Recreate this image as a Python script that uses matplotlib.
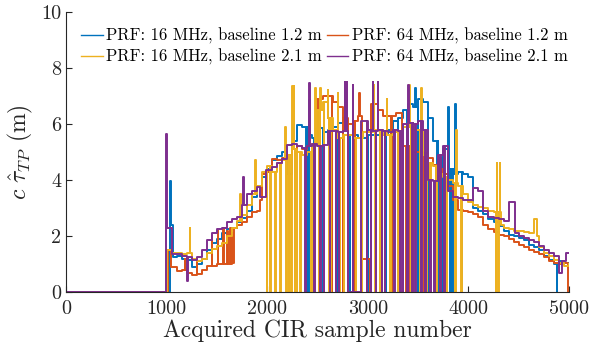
import numpy as np
import matplotlib
matplotlib.use('Agg')
import matplotlib.pyplot as plt

plt.rcParams['font.family'] = 'serif'
plt.rcParams['font.serif'] = ['cmr10']
plt.rcParams['mathtext.fontset'] = 'cm'
plt.rcParams['axes.unicode_minus'] = False

# Значения (узлы базовой линии + выбросы)
labels = ['PRF: 16 MHz, baseline 1.2 m', 'PRF: 64 MHz, baseline 1.2 m',
          'PRF: 16 MHz, baseline 2.1 m', 'PRF: 64 MHz, baseline 2.1 m']

blue_x = [0, 1035, 1045, 1060, 1100, 1150, 1200, 1250, 1300, 1350, 1400, 1450, 1500, 1550,
          1600, 1650, 1700, 1750, 1800, 1850, 1900, 1950, 2000, 2050, 2100, 2150, 2200, 2250,
          2300, 2350, 2400, 2450, 2500, 2550, 2600, 2650, 2700, 2750, 2800, 2900, 3000, 3100,
          3200, 3250, 3300, 3350, 3400, 3450, 3500, 3550, 3600, 3650, 3700, 3750, 3800, 3850,
          3900, 3950, 4000, 4050, 4100, 4150, 4200, 4250, 4300, 4350, 4400, 4450, 4500, 4550,
          4600, 4650, 4700, 4750, 4800, 4850, 4900, 4950, 5000]
blue_y = [0, 3.95, 2.4, 1.25, 1.3, 1.2, 1.15, 0.9, 1.0, 1.2, 1.5, 1.75, 1.9, 2.1,
          2.25, 2.3, 2.5, 2.65, 2.9, 3.4, 3.8, 4.1, 4.4, 4.7, 4.85, 5.0, 4.2, 5.4,
          5.95, 5.9, 5.6, 5.5, 5.85, 5.7, 5.8, 5.9, 6.05, 5.9, 5.6, 5.5, 5.6, 5.6,
          5.8, 6.1, 6.2, 6.5, 6.7, 6.6, 6.9, 6.8, 6.2, 5.4, 4.8, 5.1, 4.4, 4.2,
          4.3, 4.2, 4.1, 3.0, 2.9, 2.8, 2.6, 2.5, 2.35, 2.2, 2.05, 2.0, 1.95, 1.85,
          1.7, 1.6, 1.5, 1.3, 1.15, 1.0, 1.1, 1.05, 1.0]
blue_spk_x = [2390, 2408, 2420, 2470, 2558, 2640, 2700, 2820, 2860, 3000, 3180, 3230,
              3300, 3390, 3470, 3500, 3600, 3690, 3720, 3750, 3800, 3817, 3840, 3867, 3933, 4877]
blue_spk_y = [0, 0, 6.85, 0, 0, 0, 0, 0, 0, 0, 0, 0,
              0, 0, 7.3, 0, 0, 0, 0, 0, 6.6, 0, 0, 6.7, 0, 0]

orange_x = [0, 1010, 1040, 1100, 1150, 1200, 1250, 1300, 1350, 1400, 1450, 1500, 1550,
            1600, 1650, 1670, 1700, 1750, 1800, 1850, 1900, 1930, 1950, 2000, 2050, 2100,
            2150, 2200, 2250, 2300, 2350, 2400, 2450, 2500, 2550, 2600, 2650, 2700, 2750,
            2800, 2850, 2900, 2940, 3030, 3100, 3150, 3200, 3280, 3340, 3400, 3450, 3500,
            3550, 3600, 3650, 3700, 3750, 3800, 3850, 3900, 3950, 4000, 4050, 4100, 4150,
            4200, 4250, 4300, 4350, 4400, 4450, 4500, 4550, 4600, 4650, 4700, 4750, 4800,
            4850, 4900, 4950, 4995, 5000]
orange_y = [0, 1.5, 0.9, 0.75, 0.8, 0.7, 0.6, 0.65, 0.8, 0.95, 0.95, 1.0, 1.0,
            1.0, 1.05, 2.3, 2.4, 2.5, 2.7, 2.85, 2.9, 3.3, 4.2, 4.3, 4.75, 4.7,
            4.8, 4.9, 5.1, 5.2, 5.1, 5.2, 5.3, 6.9, 7.0, 7.0, 6.8, 6.6, 6.2,
            6.0, 6.1, 6.3, 1.2, 6.7, 6.5, 6.3, 6.3, 6.4, 5.2, 5.2, 5.0, 5.0,
            4.95, 4.8, 4.55, 4.4, 4.2, 3.8, 3.3, 2.95, 2.9, 2.85, 2.8, 2.7, 2.4,
            2.25, 2.15, 2.05, 2.0, 1.9, 1.8, 1.7, 1.6, 1.5, 1.45, 1.35, 1.25, 1.1,
            1.05, 1.0, 1.05, 0, 0]
orange_spk_x = [1180, 1300, 1450, 1510, 1560, 1600, 1630, 1650, 2520, 2640, 2750, 2800,
                2870, 2915, 3020, 3100, 3230, 3380, 3420, 3560, 3680, 3720]
orange_spk_y = [1.2, 1.1, 2.0, 2.2, 2.3, 2.2, 2.3, 2.1, 0, 0, 0, 0,
                0, 7.1, 0, 7.0, 0, 0, 0, 0, 0, 0]

yellow_x = [0, 1005, 1050, 1100, 1150, 1200, 1250, 1300, 1350, 1400, 1450, 1500, 1550,
            1600, 1650, 1700, 1750, 1800, 1850, 1900, 1950, 2000, 2050, 2100, 2150, 2200,
            2250, 2300, 2350, 2400, 2450, 2500, 2550, 2600, 2650, 2700, 2750, 2850, 2950,
            3050, 3150, 3250, 3350, 3450, 3550, 3600, 3650, 3700, 3750, 3800, 3850, 3900,
            3950, 4000, 4050, 4100, 4150, 4200, 4250, 4320, 4350, 4400, 4450, 4500, 4550,
            4600, 4650, 4680, 4700, 4750, 4800, 4850, 4900, 4950, 5000]
yellow_y = [0, 1.5, 1.4, 1.4, 1.35, 1.4, 1.2, 1.1, 1.2, 1.4, 1.55, 1.65, 1.75,
            2.0, 2.3, 2.55, 2.75, 3.1, 3.5, 3.8, 4.3, 4.5, 4.3, 4.6, 4.7, 4.9,
            5.1, 5.0, 4.9, 5.0, 5.3, 6.5, 6.8, 6.2, 5.8, 5.5, 5.6, 5.5, 5.7,
            5.8, 5.6, 5.7, 5.9, 5.8, 4.9, 4.6, 4.5, 4.2, 4.1, 4.0, 3.9, 3.8,
            3.5, 3.2, 3.1, 3.05, 3.0, 2.9, 2.85, 2.4, 2.3, 2.25, 2.2, 2.2, 2.15,
            2.1, 2.6, 2.0, 1.6, 1.4, 1.3, 1.15, 1.05, 0.95, 1.0]
yellow_spk_x = [1230, 1730, 1880, 2000, 2030, 2080, 2130, 2180, 2190, 2215, 2240, 2250,
                2262, 2275, 2300, 2330, 2440, 2470, 2480, 2520, 2530, 2560, 2600, 2612,
                2630, 2680, 2700, 2720, 2760, 2800, 2880, 2940, 2990, 3060, 3072, 3120,
                3170, 3190, 3220, 3300, 3350, 3410, 3425, 3440, 3520, 3530, 3580, 3620,
                3680, 3720, 3780, 3870, 3880, 3930, 4270, 4280, 4295, 4310]
yellow_spk_y = [2.3, 3.5, 4.7, 0, 0, 0, 0, 5.9, 0, 0, 0, 7.35,
                7.35, 0, 0, 0, 0, 0, 7.3, 0, 7.3, 0, 7.2, 0,
                0, 0, 7.1, 0, 0, 0, 0, 0, 0, 7.4, 0, 0,
                0, 6.9, 0, 0, 0, 7.4, 0, 0, 0, 7.3, 0, 0,
                0, 0, 0, 0, 5.8, 0, 0, 4.6, 0, 4.6]

purple_x = [0, 998, 1008, 1055, 1100, 1150, 1200, 1250, 1300, 1350, 1400, 1450, 1500,
            1550, 1600, 1650, 1700, 1750, 1800, 1850, 1900, 1930, 1990, 2050, 2100, 2150,
            2200, 2250, 2300, 2350, 2400, 2450, 2500, 2550, 2600, 2650, 2700, 2750, 2800,
            2930, 3000, 3050, 3100, 3150, 3200, 3250, 3300, 3350, 3400, 3450, 3500, 3550,
            3600, 3650, 3700, 3750, 3800, 3850, 3900, 3950, 4000, 4050, 4100, 4150, 4200,
            4250, 4300, 4350, 4400, 4460, 4500, 4550, 4600, 4650, 4700, 4750, 4800, 4850,
            4900, 4930, 4970, 5000]
purple_y = [0, 5.65, 2.3, 1.35, 1.35, 1.3, 1.25, 1.15, 1.25, 1.5, 1.85, 2.1, 2.25,
            2.3, 2.5, 2.6, 2.7, 3.1, 3.5, 3.6, 3.75, 3.4, 4.35, 4.45, 4.6, 4.75,
            5.25, 5.3, 5.2, 5.15, 5.2, 5.3, 5.2, 5.25, 5.75, 5.75, 5.7, 5.75, 0,
            6.1, 5.8, 5.75, 5.8, 5.75, 5.7, 5.8, 5.75, 6.0, 6.05, 6.0, 6.1, 5.8,
            4.0, 3.95, 4.9, 5.2, 3.6, 3.4, 3.35, 3.3, 3.3, 3.7, 3.6, 2.9, 2.7,
            2.65, 2.6, 2.55, 3.2, 2.1, 2.0, 1.95, 1.85, 1.8, 1.65, 1.5, 1.4, 1.3,
            0.7, 1.1, 1.4, 1.4]
purple_spk_x = [1205, 1760, 2380, 2420, 2470, 2530, 2560, 2620, 2680, 2710, 2770, 2790,
                2850, 2990, 3030, 3050, 3080, 3100, 3140, 3170, 3260, 3320, 3350, 3390,
                3400, 3440, 3470, 3530, 3570, 3620, 3660, 3720, 3760]
purple_spk_y = [0.4, 4.1, 0, 7.45, 0, 0, 0, 0, 0, 0, 7.5, 7.5,
                7.4, 0, 0, 7.5, 0, 7.5, 0, 0, 0, 0, 0, 0,
                7.4, 0, 0, 0, 0, 0, 0, 0, 0]


def build(bx, by, sx, sy, w=6):
    pts = list(zip(bx, by))
    for s, v in zip(sx, sy):
        base = by[np.searchsorted(bx, s, side='right') - 1]
        pts += [(s, v), (s + w, base)]
    pts.sort()
    pts = np.array(pts)
    return pts[:, 0], pts[:, 1]


colors = ['#0072BD', '#D95319', '#EDB120', '#7E2F8E']
series = [(blue_x, blue_y, blue_spk_x, blue_spk_y),
          (orange_x, orange_y, orange_spk_x, orange_spk_y),
          (yellow_x, yellow_y, yellow_spk_x, yellow_spk_y),
          (purple_x, purple_y, purple_spk_x, purple_spk_y)]

fig = plt.figure(figsize=(5.89, 3.52), dpi=100)
ax = fig.add_axes([0.112, 0.170, 0.854, 0.796])

lines = []
for (bx, by, sx, sy), c, lab in zip(series, colors, labels):
    x, y = build(bx, by, sx, sy)
    ln, = ax.plot(x, y, color=c, lw=1.4, drawstyle='steps-post', label=lab)
    lines.append(ln)

ax.set_xlim(0, 5000)
ax.set_ylim(0, 10)
ax.set_xticks([0, 1000, 2000, 3000, 4000, 5000])
ax.set_yticks([0, 2, 4, 6, 8, 10])
ax.spines['top'].set_visible(False)
ax.spines['right'].set_visible(False)
for sp in ['left', 'bottom']:
    ax.spines[sp].set_color('#262626')
    ax.spines[sp].set_linewidth(0.8)
ax.tick_params(direction='in', length=4, width=0.8, colors='#262626', labelsize=14.5)
ax.tick_params(axis='x', pad=6)

ax.set_xlabel('Acquired CIR sample number', fontsize=17, color='#262626', labelpad=1)
ax.set_ylabel(r'$c\ \hat{\tau}_{TP}$ (m)', fontsize=17, color='#262626')

# Легенда в две колонки
order = [0, 2, 1, 3]
leg = ax.legend([lines[i] for i in order], [labels[i] for i in order], ncol=2,
                loc='upper left', bbox_to_anchor=(0.01, 0.98), frameon=False, fontsize=12,
                handlelength=1.3, handletextpad=0.2, columnspacing=0.3, labelspacing=0.3,
                borderaxespad=0.2)
for h in leg.legend_handles:
    h.set_linewidth(1.0)

plt.savefig('out.png', dpi=100)
